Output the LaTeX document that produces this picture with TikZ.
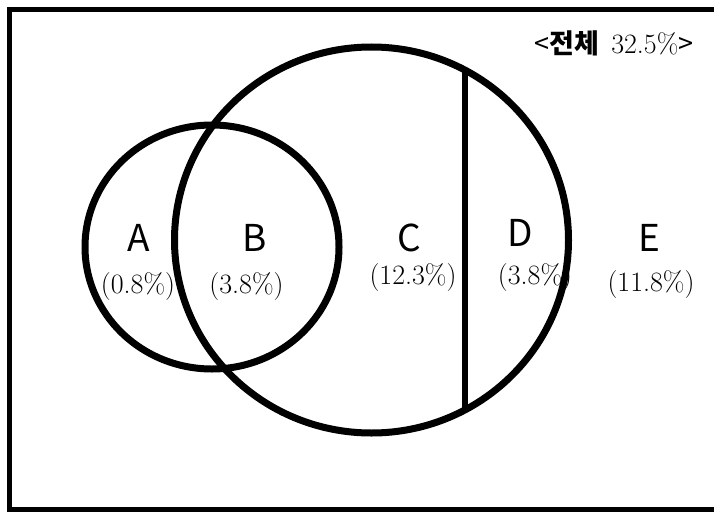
\documentclass[tikz,border=0pt]{standalone}
\usepackage{fontspec}
\newfontfamily\kfont{Noto Sans CJK KR}
\begin{document}
\begin{tikzpicture}[x=1pt, y=-1pt, line width=7pt,
        lab/.style={font=\kfont\fontsize{37}{40}\selectfont},
        pct/.style={font=\fontsize{28}{30}\selectfont}]
    \useasboundingbox (0,0) rectangle (714,511);
    \draw[line width=5pt] (9.5,9.5) rectangle (720,509.5);

    % cercles
    \draw (212,247) ellipse [x radius=127, y radius=122];
    \draw (371.5,240) ellipse [x radius=197, y radius=193];
    \begin{scope}
        \clip (371.5,240) ellipse [x radius=197, y radius=193];
        \draw[line width=5.5pt] (465,30) -- (465,450);
    \end{scope}

    \node[inner sep=0pt] (total) at (614,43) {{\kfont\fontsize{27}{29}\selectfont <\textbf{전체}}\hspace{12pt}{\fontsize{28}{30}\selectfont 32.5\%}{\kfont\fontsize{27}{29}\selectfont >}};

    \node[lab] (A) at (139,238) {A};
    \node[lab] (B) at (255,238) {B};
    \node[lab] (C) at (409,238) {C};
    \node[lab] (D) at (520,233) {D};
    \node[lab] (E) at (649,238) {E};

    \node[pct] (pA) at (138,287) {(0.8\%)};
    \node[pct] (pB) at (246.5,287) {(3.8\%)};
    \node[pct] (pC) at (413,278) {(12.3\%)};
    \node[pct] (pD) at (535,278) {(3.8\%)};
    \node[pct] (pE) at (651,285) {(11.8\%)};
\end{tikzpicture}
\end{document}
